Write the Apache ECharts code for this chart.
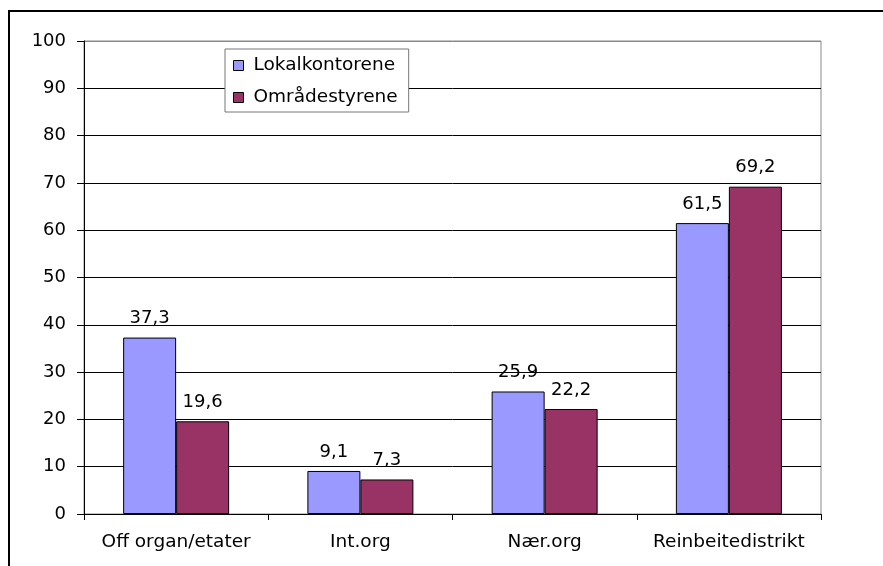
<!DOCTYPE html>
<html>
<head>
<meta charset="utf-8">
<script src="https://cdn.jsdelivr.net/npm/echarts@6/dist/echarts.min.js"></script>
<style>
  html, body { margin: 0; padding: 0; background: #fff; }
  #chart { width: 883px; height: 566px; }
</style>
</head>
<body>
<div id="chart"></div>
<script>
// data
const categories = ['Off organ/etater', 'Int.org', 'Nær.org', 'Reinbeitedistrikt'];
const lokalkontorene = [37.3, 9.1, 25.9, 61.5];
const omradestyrene = [19.6, 7.3, 22.2, 69.2];
const seriesNames = ['Lokalkontorene', 'Områdestyrene'];

const font = '"DejaVu Sans", sans-serif';
const commaLabel = p => String(p.value).replace('.', ',');

// gridline colours: black inside, gray at the top edge
const splitColors = ['#000', '#000', '#000', '#000', '#000', '#000', '#000', '#000', '#000', '#000', '#888'];

let chart = echarts.init(document.getElementById('chart'));
let option = {
  animation: false,
  textStyle: { fontFamily: font },
  graphic: [
    {
      type: 'rect',
      shape: { x: 9, y: 11, width: 900, height: 600 },
      style: { fill: 'none', stroke: '#000', lineWidth: 2 },
      silent: true
    }
  ],
  grid: {
    left: 84, top: 41, right: 62, bottom: 52,
    show: true, borderColor: '#888', borderWidth: 1
  },
  legend: {
    orient: 'vertical',
    left: 225, top: 49,
    padding: [7, 11, 5, 8],
    itemGap: 13,
    itemWidth: 10, itemHeight: 10,
    icon: 'rect',
    backgroundColor: '#fff',
    borderColor: '#777', borderWidth: 1,
    textStyle: { fontSize: 18.5, color: '#000', fontFamily: font, padding: [0, 0, 0, 5] },
    itemStyle: { borderColor: '#000', borderWidth: 1 },
    data: seriesNames
  },
  xAxis: {
    type: 'category',
    data: categories,
    axisLine: { lineStyle: { color: '#000', width: 1 } },
    axisTick: { show: true, interval: 0, alignWithLabel: false, length: 6, lineStyle: { color: '#000' } },
    axisLabel: { interval: 0, hideOverlap: false, fontSize: 18.5, color: '#000', margin: 19, fontFamily: font }
  },
  yAxis: {
    type: 'value',
    min: 0, max: 100, interval: 10,
    axisLine: { show: true, lineStyle: { color: '#000', width: 1 } },
    axisTick: { show: true, length: 7, lineStyle: { color: '#000' } },
    axisLabel: { fontSize: 18, color: '#000', margin: 18, fontFamily: font },
    splitLine: { show: true, lineStyle: { color: splitColors, width: 1 } }
  },
  series: [
    {
      name: seriesNames[0],
      type: 'bar',
      data: lokalkontorene,
      barWidth: 53,
      barGap: '0%',
      itemStyle: { color: '#9999FF', borderColor: '#000', borderWidth: 1 },
      label: { show: true, position: 'top', distance: 10, fontSize: 18, color: '#000', fontFamily: font, formatter: commaLabel }
    },
    {
      name: seriesNames[1],
      type: 'bar',
      data: omradestyrene,
      barWidth: 53,
      barGap: '0%',
      itemStyle: { color: '#993366', borderColor: '#000', borderWidth: 1 },
      label: { show: true, position: 'top', distance: 10, fontSize: 18, color: '#000', fontFamily: font, formatter: commaLabel }
    }
  ]
};
chart.setOption(option);
</script>
</body>
</html>
